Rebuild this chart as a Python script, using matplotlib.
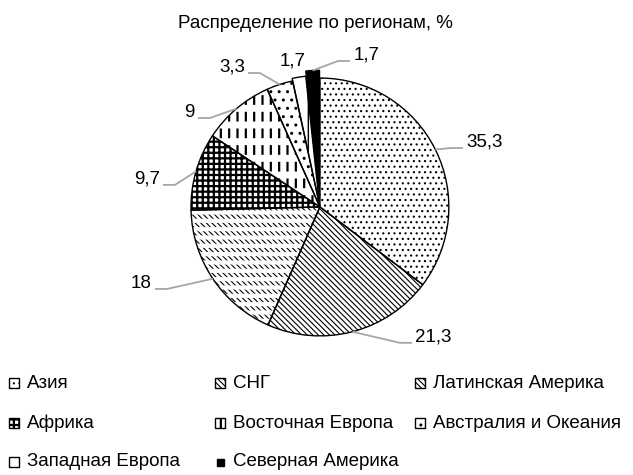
import matplotlib
matplotlib.use("Agg")
import matplotlib.pyplot as plt
from matplotlib.patches import Wedge, Rectangle
import numpy as np

plt.rcParams['font.family'] = ['Liberation Sans', 'DejaVu Sans']
plt.rcParams['hatch.linewidth'] = 0.8

# data
regions = ["Азия", "СНГ", "Латинская Америка", "Африка", "Восточная Европа",
           "Австралия и Океания", "Западная Европа", "Северная Америка"]
shares = [35.3, 21.3, 18, 9.7, 9, 3.3, 1.7, 1.7]
share_labels = ["35,3", "21,3", "18", "9,7", "9", "3,3", "1,7", "1,7"]

# styles
hatches = ['...', '\\' * 6, '\\' * 6, '+++', '||', '..', '|', '']
hatch_lw = [0.8, 0.8, 0.8, 1.6, 1.6, 1.0, 1.0, 0.8]
# white line overlays that break some hatches into dashes
breaks = [None, None, ('--', 3.0), None, ('-', 5.0), None, None, None]
faces = ['white'] * 7 + ['black']
explode = [0, 0, 0, 0, 0, 0, 0.02, 0.06]

# label layout (axes units, pie radius = 1): end of leader line at the text
label_anchor = [(1.109, 0.457), (0.713, -1.054), (-1.279, -0.636), (-1.217, 0.171),
                (-0.946, 0.690), (-0.558, 1.039), (-0.213, 1.095), (0.233, 1.132)]
has_leader = [True, True, True, True, True, True, False, True]


def with_hatch_lw(patch, lw):
    if hasattr(patch, 'set_hatch_linewidth'):
        patch.set_hatch_linewidth(lw)
    return patch


fig = plt.figure(figsize=(6.33, 4.75), dpi=100)
# pie centre at (320, 207) px, radius 129 px
ax = fig.add_axes([0.1999, 0.1568, 0.611, 0.815])

wedges = []
for i in range(len(shares)):
    plt.rcParams['hatch.linewidth'] = hatch_lw[i]
    w, _ = ax.pie(shares, startangle=90, counterclock=False, explode=explode,
                  colors=faces, radius=1, wedgeprops=dict(edgecolor='black', linewidth=0))
    for k, ww in enumerate(w):
        if k != i:
            ww.remove()
    w[i].set_hatch(hatches[i])
    with_hatch_lw(w[i], hatch_lw[i])
    wedges.append(w[i])

for w, br in zip(wedges, breaks):
    if br is None:
        continue
    plt.rcParams['hatch.linewidth'] = br[1]
    ov = Wedge(w.center, w.r, w.theta1, w.theta2, facecolor='none',
               edgecolor='white', linewidth=0, hatch=br[0], zorder=2)
    with_hatch_lw(ov, br[1])
    ax.add_patch(ov)

# outlines on top
for w in wedges:
    ax.add_patch(Wedge(w.center, w.r, w.theta1, w.theta2, fill=False,
                       edgecolor='black', linewidth=1.0, zorder=3))

ax.set_xlim(-1.5, 1.5)
ax.set_ylim(-1.5, 1.5)
ax.axis('off')

# data labels with leader lines
elbow = 0.093
gap = 0.025
for w, lab, (tx, ty), lead in zip(wedges, share_labels, label_anchor, has_leader):
    if not lead:
        ax.text(tx, ty, lab, ha='center', va='baseline', fontsize=13.5)
        continue
    ang = np.deg2rad((w.theta1 + w.theta2) / 2)
    cx, cy = w.center
    px, py = cx + np.cos(ang), cy + np.sin(ang)
    side = 1 if tx > px else -1
    ax.plot([px, tx - side * elbow, tx], [py, ty, ty], color='#a6a6a6', lw=1.3,
            solid_capstyle='butt', zorder=4)
    ax.text(tx + side * gap, ty + 0.01, lab, ha='left' if side > 0 else 'right',
            va='baseline', fontsize=13.5)

fig.text(0.499, 0.941, "Распределение по регионам, %", ha='center', va='baseline',
         fontsize=13.5)

# legend, drawn by hand in a 3-column grid (row by row)
col_x = [9, 215, 415]
row_y = [383, 423, 462]
W, H = 633, 475
for i, name in enumerate(regions):
    x0 = col_x[i % 3]
    yc = row_y[i // 3]
    s = 7 if i == 7 else 10
    plt.rcParams['hatch.linewidth'] = hatch_lw[i]
    box = Rectangle(((x0 + (10 - s) / 2) / W, (H - yc - s / 2) / H), s / W, s / H,
                    transform=fig.transFigure, facecolor=faces[i], edgecolor='black',
                    linewidth=1.0, hatch=hatches[i])
    with_hatch_lw(box, hatch_lw[i])
    fig.add_artist(box)
    fig.text((x0 + 18) / W, (H - yc) / H, name, ha='left', va='center', fontsize=13.5)

fig.savefig("out.png", dpi=100)
